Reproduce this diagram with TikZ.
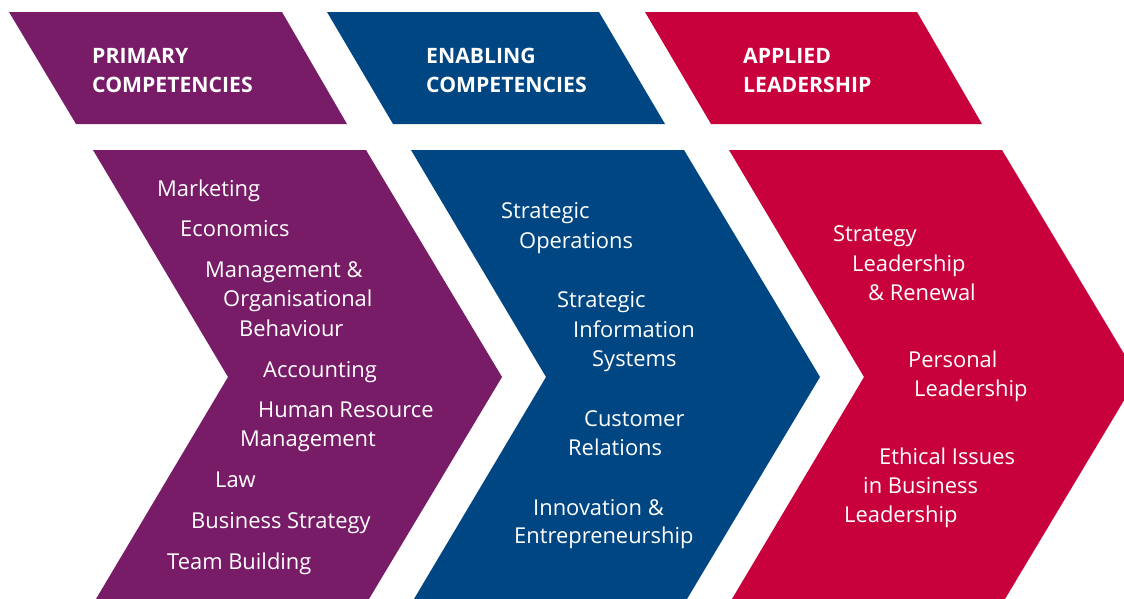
\documentclass[tikz,border=0pt]{standalone}
\usepackage{fontspec}
\setmainfont{Open Sans}
\definecolor{cpurple}{RGB}{120,28,104}
\definecolor{cblue}{RGB}{0,70,131}
\definecolor{cred}{RGB}{200,0,60}
\begin{document}
\begin{tikzpicture}[x=1pt,y=-1pt,
  hdr/.style={text=white,font=\bfseries\fontsize{21.2}{25}\selectfont,anchor=base west,inner sep=0pt},
  item/.style={text=white,font=\fontsize{21.9}{26}\selectfont,anchor=base west,inner sep=0pt}]
\useasboundingbox (0,0) rectangle (1124,598);
\clip (0,0) rectangle (1124,598);
% header parallelograms
\fill[cpurple] (9,12) -- (282,12) -- (347,124) -- (76,124) -- cycle;
\fill[cblue] (327,12) -- (599,12) -- (665,124) -- (393,124) -- cycle;
\fill[cred] (645,12) -- (917,12) -- (982,124) -- (711,124) -- cycle;
% chevrons
\fill[cpurple] (93,150) -- (366,150) -- (502,377) -- (366,604) -- (93,604) -- (228,377) -- cycle;
\fill[cblue] (411,150) -- (684,150) -- (820,377) -- (684,604) -- (411,604) -- (546,377) -- cycle;
\fill[cred] (729,150) -- (1002,150) -- (1138,377) -- (1002,604) -- (729,604) -- (864,377) -- cycle;
% headers
\node[hdr] (h1a) at (92,63) {PRIMARY};
\node[hdr] (h1b) at (92,92) {COMPETENCIES};
\node[hdr] (h2a) at (426,63) {ENABLING};
\node[hdr] (h2b) at (426,92) {COMPETENCIES};
\node[hdr] (h3a) at (743,63) {APPLIED};
\node[hdr] (h3b) at (743,92) {LEADERSHIP};
% purple items
\node[item] (p1) at (157,196) {Marketing};
\node[item] (p2) at (180,236) {Economics};
\node[item] (p3) at (205,277) {Management \&};
\node[item] (p4) at (223,306) {Organisational};
\node[item] (p5) at (239,336) {Behaviour};
\node[item] (p6) at (263,377) {Accounting};
\node[item] (p7) at (258,417) {Human Resource};
\node[item] (p8) at (240,446) {Management};
\node[item] (p9) at (215,487) {Law};
\node[item] (p10) at (191,528) {Business Strategy};
\node[item] (p11) at (167,569) {Team Building};
% blue items
\node[item] (b1) at (501,218) {Strategic};
\node[item] (b2) at (519,248) {Operations};
\node[item] (b3) at (557,307) {Strategic};
\node[item] (b4) at (573,337) {Information};
\node[item] (b5) at (592,366) {Systems};
\node[item] (b6) at (584,426) {Customer};
\node[item] (b7) at (568,455) {Relations};
\node[item] (b8) at (533,515) {Innovation \&};
\node[item] (b9) at (514,543) {Entrepreneurship};
% red items
\node[item] (r1) at (833,241) {Strategy};
\node[item] (r2) at (852,271) {Leadership};
\node[item] (r3) at (868,300) {\& Renewal};
\node[item] (r4) at (908,367) {Personal};
\node[item] (r5) at (914,396) {Leadership};
\node[item] (r6) at (879,464) {Ethical Issues};
\node[item] (r7) at (863,493) {in Business};
\node[item] (r8) at (844,522) {Leadership};
\end{tikzpicture}
\end{document}
